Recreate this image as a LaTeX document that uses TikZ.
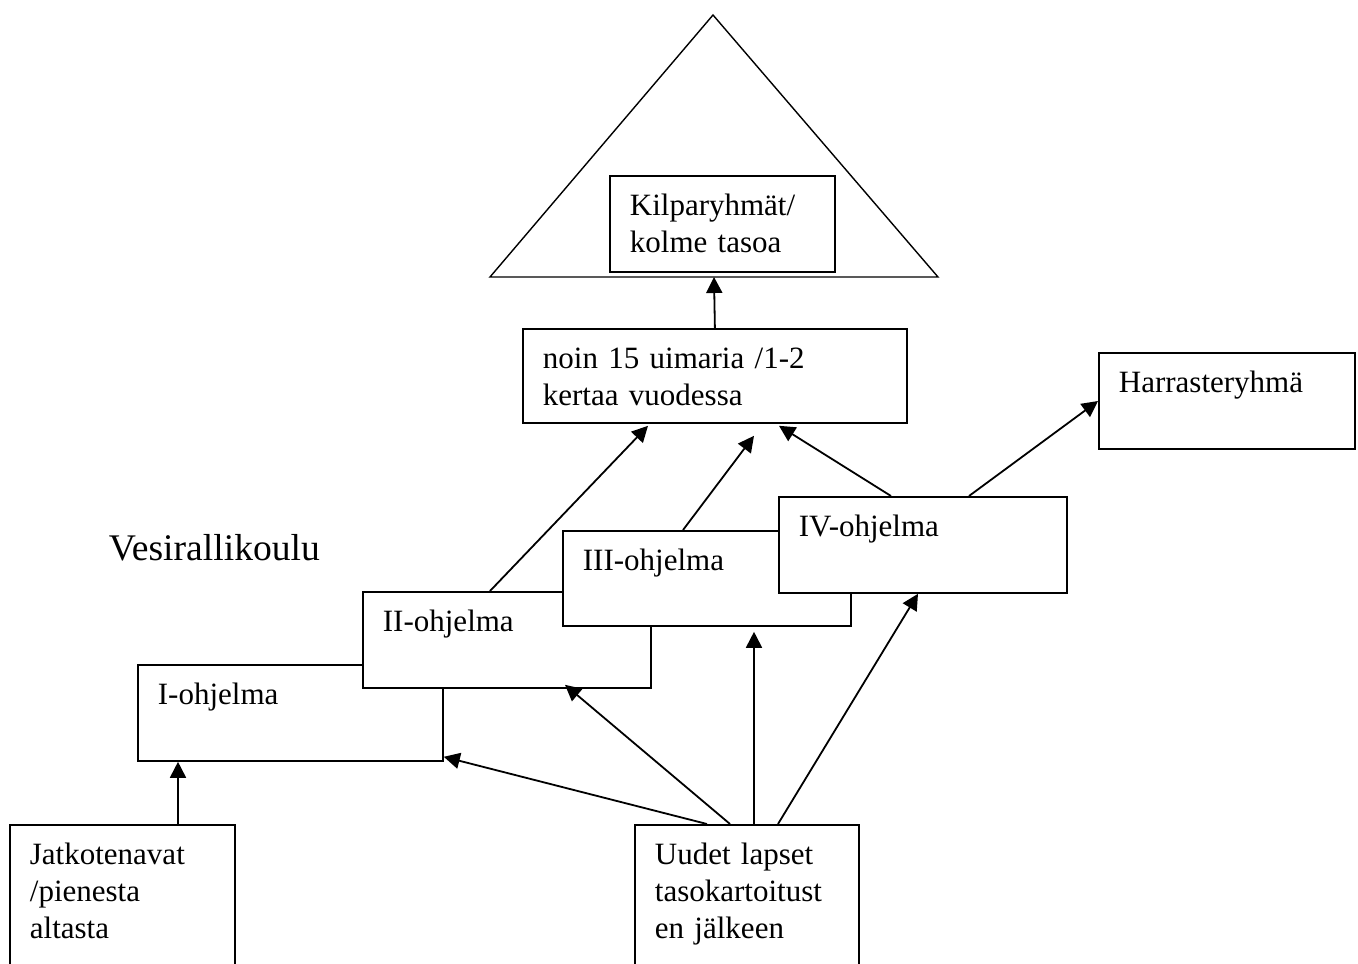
\documentclass[tikz,border=0pt]{standalone}
\usepackage{fontspec}
\setmainfont{Liberation Serif}
\usetikzlibrary{arrows.meta}
\tikzset{every path/.style={line width=1.8pt}}
\tikzset{box/.style={draw, fill=white, anchor=north west, inner xsep=20pt, inner ysep=0pt,
    text height=40pt, align=left, font=\fontsize{31}{37}\selectfont}}

\begin{document}
\begin{tikzpicture}[x=1pt, y=-1pt, >={Triangle[length=16pt,width=16pt]}]
    \useasboundingbox (0,0) rectangle (1358,964);

    % pyramid
    \draw[line width=1.4pt] (490,277) -- (713,15) -- (938,277) -- cycle;
    \coordinate (tribase) at (714,277);

    \node[box, text width=185pt, text depth=56pt] (kilp) at (609,175) {Kilparyhmät/\\kolme tasoa};
    \node[box, text width=344pt, text depth=54pt] (noin) at (522,328) {noin 15 uimaria /1-2\\kertaa vuodessa};
    \node[box, text width=216pt, text depth=56pt] (harr) at (1098,352) {Harrasteryhmä};

    \node[anchor=base west, inner sep=0pt, font=\fontsize{37.6}{45}\selectfont] (koulu) at (108,560) {Vesirallikoulu};

    \node[box, text width=265pt, text depth=56pt] (prog1) at (137,664) {I-ohjelma};
    \node[box, text width=248pt, text depth=56pt] (prog2) at (362,591) {II-ohjelma};
    \node[box, text width=248pt, text depth=55pt] (prog3) at (562,530) {III-ohjelma};
    \node[box, text width=248pt, text depth=56pt] (prog4) at (778,496) {IV-ohjelma};

    \node[box, text width=185pt, text depth=120pt] (jatko) at (9,824) {Jatkotenavat\\/pienesta\\altasta};
    \node[box, text width=184pt, text depth=120pt] (uudet) at (634,824) {Uudet lapset\\tasokartoitust\\en jälkeen};

    \draw[->] (noin.north) -- (tribase);
    \draw[->] ([xshift=128pt]prog2.north west) -- ([xshift=126pt,yshift=-2pt]noin.south west);
    \draw[->] ([xshift=121pt]prog3.north west) -- ([xshift=232pt,yshift=-12pt]noin.south west);
    \draw[->] ([xshift=113pt]prog4.north west) -- ([xshift=257pt,yshift=-2pt]noin.south west);
    \draw[->] ([xshift=191pt]prog4.north west) -- ([yshift=-49pt]harr.north west);

    \draw[->] ([xshift=169pt]jatko.north west) -- ([xshift=41pt]prog1.south west);
    \draw[->] ([xshift=73pt]uudet.north west) -- ([yshift=5pt]prog1.south east);
    \draw[->] ([xshift=96pt]uudet.north west) -- ([xshift=203pt,yshift=4pt]prog2.south west);
    \draw[->] ([xshift=120pt]uudet.north west) -- ([xshift=192pt,yshift=-5pt]prog3.south west);
    \draw[->] ([xshift=144pt]uudet.north west) -- ([xshift=140pt]prog4.south west);
\end{tikzpicture}
\end{document}
